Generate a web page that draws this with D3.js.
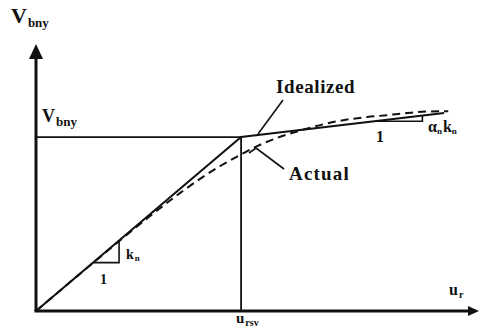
<!DOCTYPE html>
<html>
<head>
<meta charset="utf-8">
<script src="https://cdn.jsdelivr.net/npm/d3@7"></script>
<style>
  html, body { margin: 0; padding: 0; background: #fff; }
  svg { display: block; }
  text { font-family: "Liberation Serif", "Times New Roman", serif; font-weight: bold; fill: #111; }
</style>
</head>
<body>
<svg id="chart" width="480" height="333"></svg>
<script>
// Normalised displacement u_r / u_rsv and shear V / V_bny
const uMax = 2.16;           // end of the horizontal axis
const vMax = 1.535;          // end of the vertical axis
const yieldPoint = [1, 1];   // (u_rsv, V_bny)

// Bilinear idealisation
const idealized = [[0, 0], [1, 1], [1.99, 1.138]];

// Measured response
const actual = [
  [0, 0], [0.3, 0.298], [0.55, 0.54], [0.7, 0.676], [0.8, 0.76],
  [0.9, 0.835], [1.0, 0.9], [1.078, 0.948], [1.176, 0.995],
  [1.273, 1.032], [1.4, 1.073], [1.498, 1.097], [1.615, 1.115],
  [1.712, 1.126], [1.81, 1.138], [1.907, 1.147], [2.01, 1.149]
];

// Slope triangles: [start u, end u] on each branch
const elasticTri = [0.278, 0.405];
const hardeningTri = [1.655, 1.884];

const svg = d3.select("#chart");
const x = d3.scaleLinear().domain([0, uMax]).range([36, 479]);
const y = d3.scaleLinear().domain([0, vMax]).range([311, 44]);

const ink = "#111";

// Axes
const axes = svg.append("g").attr("stroke", ink).attr("stroke-width", 3);
axes.append("line").attr("x1", x(0)).attr("y1", y(0)).attr("x2", x(0)).attr("y2", y(vMax) + 10);
axes.append("line").attr("x1", x(0) - 1.5).attr("y1", y(0)).attr("x2", x(uMax) - 8).attr("y2", y(0));
svg.append("path")
  .attr("d", `M${x(0)},${y(vMax)} L${x(0) - 7},${y(vMax) + 15} L${x(0) + 7},${y(vMax) + 15} Z`)
  .attr("fill", ink);
svg.append("path")
  .attr("d", `M${x(uMax)},${y(0)} L${x(uMax) - 11},${y(0) - 5} L${x(uMax) - 11},${y(0) + 5} Z`)
  .attr("fill", ink);

// Reference lines at the yield point
const refs = svg.append("g").attr("stroke", ink).attr("stroke-width", 1.8);
refs.append("line").attr("x1", x(0)).attr("y1", y(yieldPoint[1])).attr("x2", x(yieldPoint[0])).attr("y2", y(yieldPoint[1]));
refs.append("line").attr("x1", x(yieldPoint[0])).attr("y1", y(yieldPoint[1])).attr("x2", x(yieldPoint[0])).attr("y2", y(0));

// Curves
const line = d3.line().x(d => x(d[0])).y(d => y(d[1]));
const smooth = d3.line().x(d => x(d[0])).y(d => y(d[1])).curve(d3.curveMonotoneX);

svg.append("path").datum(actual)
  .attr("d", smooth).attr("fill", "none").attr("stroke", ink)
  .attr("stroke-width", 2).attr("stroke-dasharray", "8,5");

svg.append("path").datum(idealized)
  .attr("d", line).attr("fill", "none").attr("stroke", ink)
  .attr("stroke-width", 2);

// Value on a branch of the idealised curve
function ideal(u) {
  for (let i = 1; i < idealized.length; i++) {
    const [u0, v0] = idealized[i - 1], [u1, v1] = idealized[i];
    if (u <= u1) return v0 + (v1 - v0) * (u - u0) / (u1 - u0);
  }
  return idealized[idealized.length - 1][1];
}

function slopeTriangle(range) {
  const [ua, ub] = range;
  const va = ideal(ua), vb = ideal(ub);
  svg.append("path")
    .attr("d", `M${x(ua)},${y(va)} L${x(ub)},${y(va)} L${x(ub)},${y(vb)}`)
    .attr("fill", "none").attr("stroke", ink).attr("stroke-width", 1.6);
}
slopeTriangle(elasticTri);
slopeTriangle(hardeningTri);

// Labels
function label(px, py, main, sub, size, subSize, dy) {
  const t = svg.append("text").attr("x", px).attr("y", py).style("font-size", size + "px");
  t.append("tspan").text(main);
  if (sub) t.append("tspan").attr("dy", dy).attr("dx", 1).style("font-size", subSize + "px").text(sub);
  return t;
}

label(11, 23, "V", "bny", 22, 13, 4);
label(42, 122, "V", "bny", 18, 13, 4);
label(449, 295, "u", "r", 16, 10, 3);
label(236, 323, "u", "rsv", 15, 10, 3);

svg.append("text").attr("x", 276).attr("y", 93).style("font-size", "19px")
  .style("letter-spacing", "0.6px").text("Idealized");
svg.append("text").attr("x", 289).attr("y", 180).style("font-size", "19px")
  .style("letter-spacing", "1.2px").text("Actual");

// Leader lines
svg.append("line").attr("x1", 283).attr("y1", 100).attr("x2", 258).attr("y2", 134)
  .attr("stroke", ink).attr("stroke-width", 1.6);
svg.append("path").attr("d", "M249,153 L256,148 L284,169")
  .attr("fill", "none").attr("stroke", ink).attr("stroke-width", 1.6);

// Triangle annotations
svg.append("text").attr("x", 100).attr("y", 284).style("font-size", "14px").text("1");
label(126, 259, "k", "n", 14, 9, 2);
svg.append("text").attr("x", 376).attr("y", 142).style("font-size", "16px").text("1");
const ak = svg.append("text").attr("x", 428).attr("y", 132).style("font-size", "16px");
ak.append("tspan").text("\u03b1");
ak.append("tspan").attr("dy", 2).style("font-size", "9px").text("n");
ak.append("tspan").attr("dy", -2).attr("dx", 1).text("k");
ak.append("tspan").attr("dy", 2).style("font-size", "9px").text("n");
</script>
</body>
</html>
